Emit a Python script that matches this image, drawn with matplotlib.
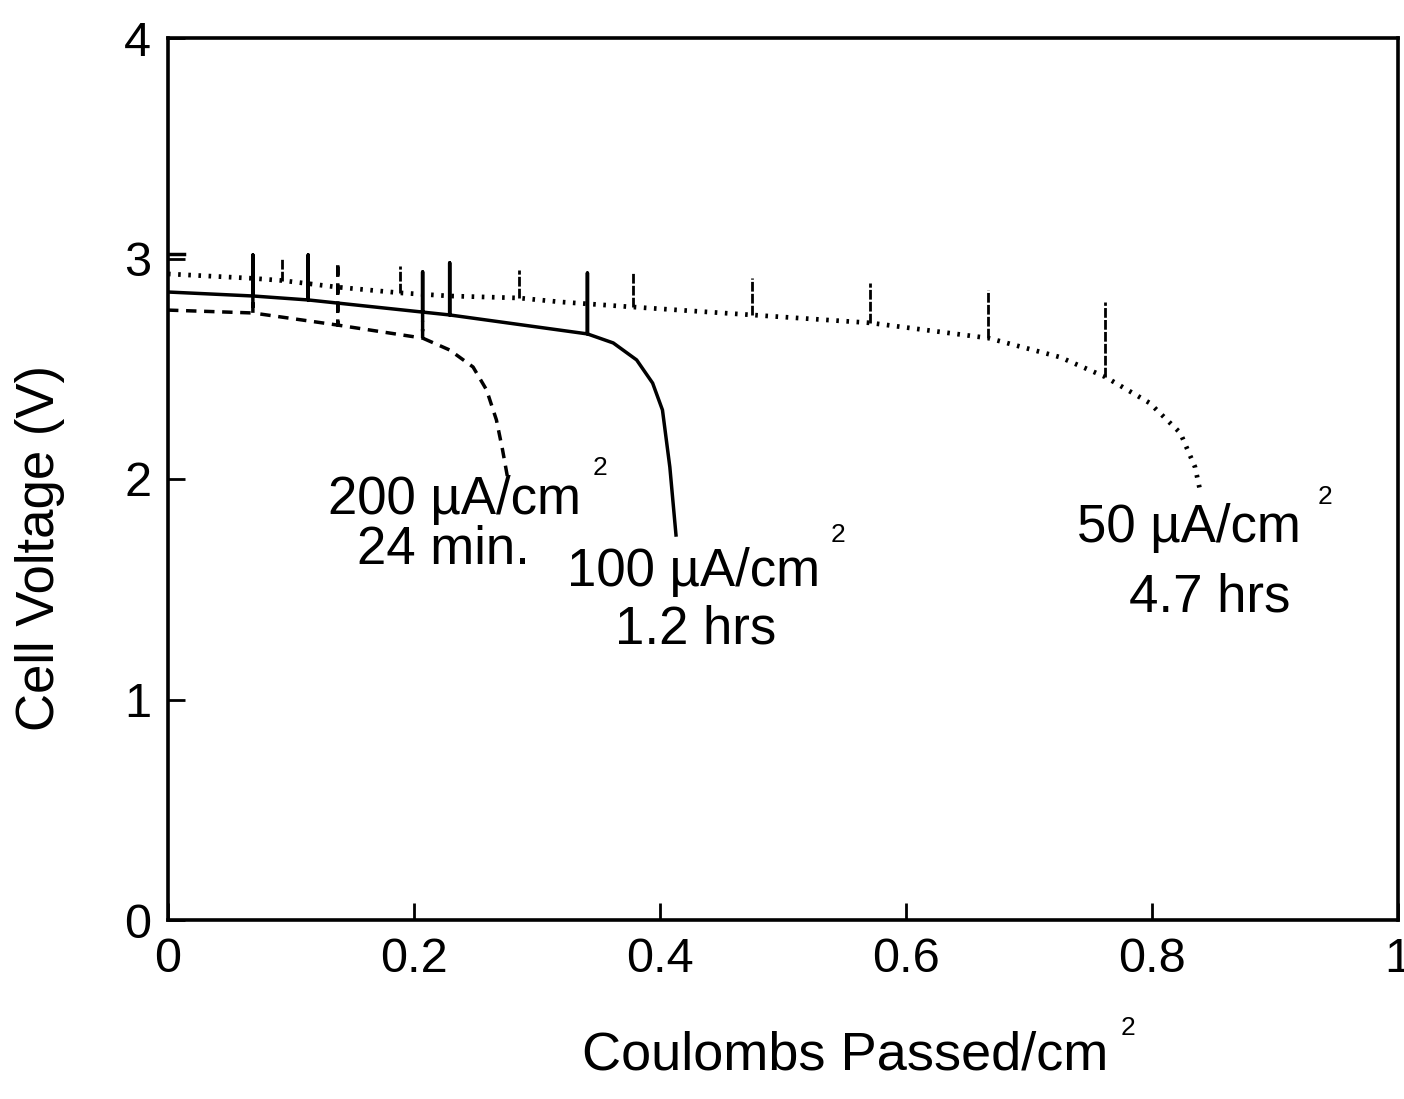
import numpy as np
import matplotlib
matplotlib.use("Agg", force=True)
import matplotlib.pyplot as plt

plt.rcParams['font.family'] = ['Liberation Sans', 'DejaVu Sans']

# 50 uA/cm2 (dotted)
dot_x = [0.0, 0.069, 0.093, 0.138, 0.189, 0.229, 0.285, 0.319, 0.378, 0.475,
         0.571, 0.667, 0.725, 0.762, 0.798, 0.823, 0.835, 0.839]
dot_v = [2.93, 2.91, 2.90, 2.87, 2.844, 2.83, 2.821, 2.803, 2.78, 2.744,
         2.708, 2.639, 2.553, 2.463, 2.345, 2.209, 2.054, 1.95]
dot_spike_x = [0.093, 0.189, 0.285, 0.378, 0.475, 0.571, 0.667, 0.762]
dot_spike_top = [3.00, 2.966, 2.948, 2.934, 2.912, 2.889, 2.857, 2.803]
dot_start_x = [0.0, 0.013]
dot_start_v = [3.02, 3.02]

# 100 uA/cm2 (solid)
sol_x = [0.0, 0.069, 0.114, 0.207, 0.229, 0.341, 0.362, 0.381, 0.394, 0.402, 0.408, 0.413]
sol_v = [2.848, 2.83, 2.812, 2.757, 2.744, 2.658, 2.617, 2.54, 2.435, 2.313, 2.054, 1.746]
sol_spike_x = [0.069, 0.114, 0.207, 0.229, 0.341]
sol_spike_top = [3.016, 3.016, 2.939, 2.98, 2.934]

# 200 uA/cm2 (dashed)
das_x = [0.0, 0.069, 0.138, 0.207, 0.229, 0.248, 0.259, 0.267, 0.272, 0.276]
das_v = [2.766, 2.753, 2.698, 2.639, 2.585, 2.508, 2.404, 2.268, 2.132, 2.009]
das_spike_x = [0.069, 0.138, 0.207]
das_spike_top = [2.83, 2.984, 2.757]


def with_spikes(xs, vs, sx, stop):
    out_x, out_v = [], []
    spikes = dict(zip(sx, stop))
    for x, v in zip(xs, vs):
        out_x.append(x)
        out_v.append(v)
        if x in spikes:
            out_x += [x, x]
            out_v += [spikes[x], v]
    return out_x, out_v


fig = plt.figure(figsize=(14.04, 10.99), dpi=100)
ax = fig.add_axes([168 / 1404, 1 - 920 / 1099, 1230 / 1404, 882 / 1099])

lw = 2.5
ax.plot(dot_x, dot_v, color='black', lw=3.4, linestyle=(0, (0.55, 1.6)))
ax.vlines(dot_spike_x, np.interp(dot_spike_x, dot_x, dot_v), dot_spike_top,
          color='black', lw=2.0, linestyle=(0, (3.5, 0.8)))
ax.plot(dot_start_x, dot_start_v, color='black', lw=lw)
x, v = with_spikes(sol_x, sol_v, sol_spike_x, sol_spike_top)
ax.plot(x, v, color='black', lw=lw)
x, v = with_spikes(das_x, das_v, das_spike_x, das_spike_top)
ax.plot(x, v, color='black', lw=lw, linestyle=(0, (3.0, 2.2)))

ax.set_xlim(0, 1)
ax.set_ylim(0, 4)
ax.set_xticks([0, 0.2, 0.4, 0.6, 0.8, 1])
ax.set_xticklabels(['0', '0.2', '0.4', '0.6', '0.8', '1'])
ax.set_yticks([0, 1, 2, 3, 4])
ax.tick_params(direction='in', length=12, width=2, labelsize=35)
ax.tick_params(axis='x', pad=12)
ax.tick_params(axis='y', pad=12)
for s in ax.spines.values():
    s.set_linewidth(2.6)

fs = 38
W, H = 1404, 1099


def put(px, py, s, size=fs, **kw):
    fig.text(px / W, 1 - py / H, s, fontsize=size, ha='center', va='center', **kw)


put(455, 500, '200 µA/cm')
put(600, 468, '2', size=19)
put(443, 550, '24 min.')
put(694, 572, '100 µA/cm')
put(838, 535, '2', size=19)
put(696, 630, '1.2 hrs')
put(1189, 528, '50 µA/cm')
put(1325, 497, '2', size=19)
put(1210, 598, '4.7 hrs')
put(845, 1055, 'Coulombs Passed/cm', size=39)
put(1128, 1028, '2', size=19)
put(40, 548, 'Cell Voltage (V)', size=38, rotation=90)

fig.savefig('out.png', dpi=100)
